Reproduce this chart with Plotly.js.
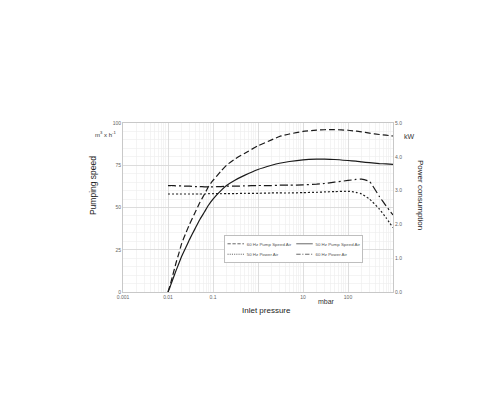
<!DOCTYPE html>
<html>
<head>
<meta charset="utf-8">
<script src="https://cdn.plot.ly/plotly-3.0.1.min.js"></script>
<style>html,body{margin:0;padding:0;background:#fff;}#chart{width:500px;height:400px;}</style>
</head>
<body>
<div id="chart"></div>
<script>
// Inlet pressure (mbar)
const pressure = [0.01, 0.011, 0.0125, 0.015, 0.0175, 0.02, 0.025, 0.03, 0.04, 0.05, 0.065, 0.08, 0.1, 0.15, 0.2, 0.3, 0.5, 1, 2, 3, 5, 10, 20, 30, 50, 100, 150, 200, 300, 500, 700, 1000];
// Pumping speed (m3/h)
const speed60 = [0, 3.5, 9, 17, 23, 28.5, 35, 40, 47, 52.5, 58, 62.5, 66, 71.5, 75, 78.5, 82, 86.5, 90, 92, 93.5, 95, 95.8, 96, 96.1, 95.7, 95.2, 94.8, 94, 93.2, 92.8, 92.3];
const speed50 = [0, 2.7, 6.8, 12.5, 17, 21, 26.5, 31, 37.5, 42.5, 47.5, 51.5, 55, 60, 63, 66, 69, 72.5, 75, 76.2, 77.2, 78.2, 78.6, 78.6, 78.4, 77.8, 77.4, 77, 76.5, 76, 75.8, 75.5];
// Power consumption (kW)
const power50 = [2.9, 2.9, 2.9, 2.9, 2.9, 2.9, 2.9, 2.9, 2.9, 2.9, 2.9, 2.91, 2.91, 2.91, 2.91, 2.91, 2.92, 2.92, 2.93, 2.93, 2.93, 2.94, 2.95, 2.96, 2.97, 2.98, 2.95, 2.9, 2.75, 2.45, 2.2, 1.9];
const power60 = [3.15, 3.15, 3.15, 3.14, 3.14, 3.14, 3.13, 3.13, 3.12, 3.12, 3.11, 3.11, 3.11, 3.12, 3.13, 3.13, 3.14, 3.15, 3.15, 3.16, 3.16, 3.17, 3.19, 3.21, 3.25, 3.30, 3.33, 3.34, 3.27, 2.82, 2.55, 2.28];

const xTickVals = [0.001, 0.01, 0.1, 1, 10, 100];
const xTickText = ['0.001', '0.01', '0.1', ' ', '10', '100'];
const yTickVals = [0, 25, 50, 75, 100];
const y2TickVals = [0, 1, 2, 3, 4, 5];
const y2TickText = ['0.0', '1.0', '2.0', '3.0', '4.0', '5.0'];

const names = ['60 Hz Pump Speed Air', '50 Hz Pump Speed Air', '50 Hz Power Air', '60 Hz Power Air'];

const minorX = [];
for (let e = -3; e < 3; e++) for (let m = 2; m <= 9; m++) minorX.push(m * Math.pow(10, e));

const lc = '#1a1a1a';
const sm = {shape: 'spline', smoothing: 0.5};
const traces = [
  {x: pressure, y: speed60, name: names[0], mode: 'lines', line: Object.assign({color: lc, width: 1.2, dash: '6px,3px'}, sm)},
  {x: pressure, y: speed50, name: names[1], mode: 'lines', line: Object.assign({color: lc, width: 1.2}, sm)},
  {x: pressure, y: power50, name: names[2], yaxis: 'y2', mode: 'lines', line: Object.assign({color: lc, width: 1.2, dash: '2px,2px'}, sm)},
  {x: pressure, y: power60, name: names[3], yaxis: 'y2', mode: 'lines', line: Object.assign({color: lc, width: 1.2, dash: '8px,3px,2px,3px'}, sm)}
];

// legend placement (fraction of plot area) and compact scale
const legendX = 0.374, legendY = 0.337, legendScale = 0.55;

const tf = {family: 'Liberation Sans, Arial, sans-serif', size: 5, color: '#666'};
const layout = {
  width: 500, height: 400,
  margin: {l: 123, r: 107, t: 123, b: 108},
  paper_bgcolor: '#fff', plot_bgcolor: '#fff',
  font: {family: 'Liberation Sans, Arial, sans-serif', color: '#333'},
  showlegend: true,
  legend: {
    x: 0, y: legendY, xanchor: 'left', yanchor: 'top',
    orientation: 'h', entrywidth: 80, entrywidthmode: 'pixels',
    bordercolor: '#aaa', borderwidth: 1.4, bgcolor: '#fff',
    font: {family: 'Liberation Sans, Arial, sans-serif', size: 8, color: '#555'},
    itemwidth: 30, tracegroupgap: 0
  },
  xaxis: {
    type: 'log', range: [-3, 3],
    tickvals: xTickVals, ticktext: xTickText,
    tickfont: tf, ticks: '',
    showgrid: true, gridcolor: '#d6d6d6', gridwidth: 0.8,
    minor: {tickvals: minorX, showgrid: true, gridcolor: '#ededed', gridwidth: 0.6, ticks: ''},
    showline: true, linecolor: '#c8c8c8', linewidth: 1, mirror: true,
    zeroline: false
  },
  yaxis: {
    range: [0, 100], tickvals: yTickVals,
    tickfont: tf, ticks: '',
    showgrid: true, gridcolor: '#d6d6d6', gridwidth: 0.8,
    minor: {dtick: 5, showgrid: true, gridcolor: '#ededed', gridwidth: 0.6, ticks: ''},
    showline: true, linecolor: '#c8c8c8', linewidth: 1,
    zeroline: false
  },
  yaxis2: {
    range: [0, 5], overlaying: 'y', side: 'right',
    tickvals: y2TickVals, ticktext: y2TickText,
    tickfont: tf, ticks: '',
    showgrid: false, zeroline: false,
    showline: true, linecolor: '#c8c8c8', linewidth: 1
  },
  annotations: [
    {text: 'm<sup>3</sup> x h<sup>-1</sup>', xref: 'paper', yref: 'paper', x: -0.018, y: 0.935, xanchor: 'right', yanchor: 'middle', showarrow: false, font: {size: 6, color: '#333'}},
    {text: 'kW', xref: 'paper', yref: 'paper', x: 1.035, y: 0.922, xanchor: 'left', yanchor: 'middle', showarrow: false, font: {size: 7, color: '#333'}},
    {text: 'Pumping speed', xref: 'paper', yref: 'paper', x: -0.111, y: 0.627, xanchor: 'center', yanchor: 'middle', textangle: -90, showarrow: false, font: {size: 8.5, color: '#222'}},
    {text: 'Power consumption', xref: 'paper', yref: 'paper', x: 1.1, y: 0.574, xanchor: 'center', yanchor: 'middle', textangle: 90, showarrow: false, font: {size: 8, color: '#222'}},
    {text: 'Inlet pressure', xref: 'paper', yref: 'paper', x: 0.533, y: -0.107, xanchor: 'center', yanchor: 'middle', showarrow: false, font: {size: 8, color: '#222'}},
    {text: 'mbar', xref: 'paper', yref: 'paper', x: 0.752, y: -0.059, xanchor: 'center', yanchor: 'middle', showarrow: false, font: {size: 7, color: '#333'}}
  ]
};

Plotly.newPlot('chart', traces, layout, {staticPlot: true, displayModeBar: false}).then(function (gd) {
  // move and shrink the legend box to the compact size used in the reference
  const lg = gd.querySelector('g.legend');
  const s = gd._fullLayout._size;
  if (lg) {
    const px = s.l + legendX * s.w;
    const py = s.t + (1 - legendY) * s.h;
    lg.setAttribute('transform', 'translate(' + px + ',' + py + ') scale(' + legendScale + ')');
  }
});
</script>
</body>
</html>
